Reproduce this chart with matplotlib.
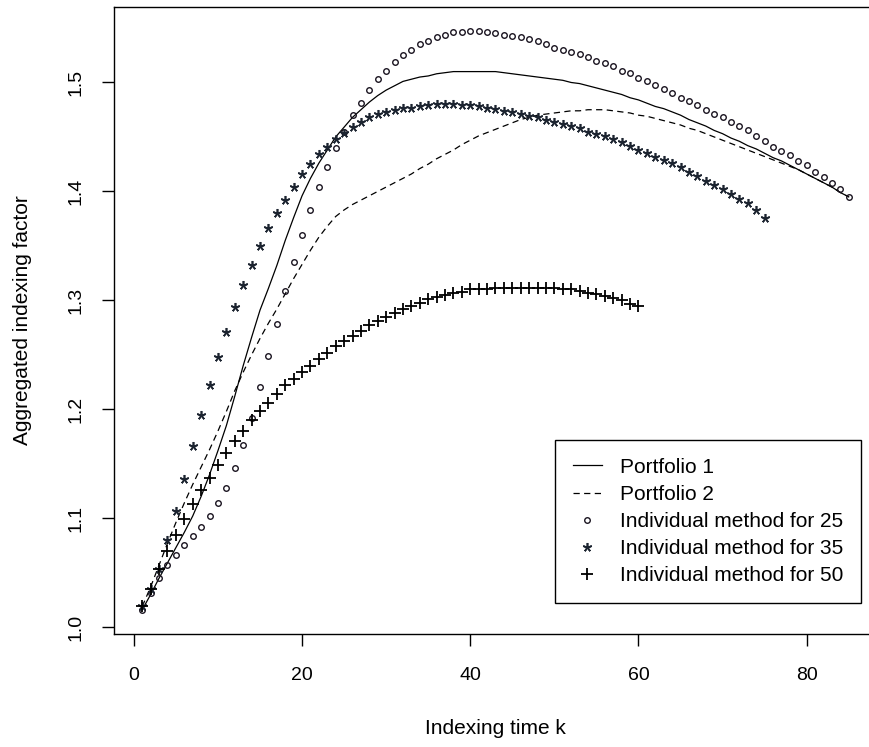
import matplotlib
matplotlib.use('Agg')
import matplotlib.pyplot as plt

plt.rcParams['font.family'] = ['Liberation Sans', 'DejaVu Sans']

# indexing times
k85 = list(range(1, 86))
k75 = list(range(1, 76))
k60 = list(range(1, 61))

# Portfolio 1 (solid line)
portfolio1 = [1.016, 1.030, 1.045, 1.059, 1.073, 1.087, 1.102, 1.120, 1.140, 1.162,
              1.185, 1.212, 1.240, 1.266, 1.291, 1.311, 1.332, 1.355, 1.376, 1.396,
              1.412, 1.426, 1.438, 1.450, 1.459, 1.468, 1.475, 1.482, 1.488, 1.493,
              1.497, 1.501, 1.503, 1.505, 1.506, 1.508, 1.509, 1.510, 1.510, 1.510,
              1.510, 1.510, 1.510, 1.509, 1.508, 1.507, 1.506, 1.505, 1.504, 1.503,
              1.502, 1.500, 1.499, 1.497, 1.495, 1.493, 1.491, 1.489, 1.486, 1.484,
              1.481, 1.478, 1.476, 1.473, 1.470, 1.466, 1.463, 1.460, 1.456, 1.453,
              1.449, 1.446, 1.442, 1.439, 1.435, 1.431, 1.428, 1.424, 1.420, 1.416,
              1.412, 1.408, 1.404, 1.399, 1.395]

# Portfolio 2 (dashed line)
portfolio2 = [1.019, 1.037, 1.057, 1.077, 1.096, 1.114, 1.131, 1.147, 1.163, 1.180,
              1.198, 1.217, 1.234, 1.250, 1.265, 1.279, 1.292, 1.306, 1.320, 1.333,
              1.346, 1.358, 1.368, 1.377, 1.383, 1.388, 1.392, 1.396, 1.400, 1.404,
              1.408, 1.412, 1.416, 1.421, 1.425, 1.430, 1.434, 1.438, 1.443, 1.447,
              1.451, 1.454, 1.457, 1.460, 1.463, 1.466, 1.468, 1.470, 1.471, 1.472,
              1.473, 1.474, 1.474, 1.475, 1.475, 1.475, 1.474, 1.473, 1.472, 1.470,
              1.469, 1.467, 1.465, 1.463, 1.461, 1.458, 1.456, 1.453, 1.450, 1.447,
              1.444, 1.441, 1.438, 1.435, 1.432, 1.429, 1.426, 1.423, 1.420, 1.416,
              1.412, 1.408, 1.404, 1.399, 1.395]

# Individual method for 25 (circles)
ind25 = [1.016, 1.031, 1.045, 1.057, 1.066, 1.075, 1.084, 1.092, 1.102, 1.114,
         1.128, 1.146, 1.167, 1.192, 1.220, 1.249, 1.278, 1.309, 1.335, 1.360,
         1.383, 1.404, 1.422, 1.440, 1.455, 1.470, 1.481, 1.493, 1.503, 1.511,
         1.519, 1.525, 1.530, 1.535, 1.538, 1.542, 1.544, 1.546, 1.546, 1.547,
         1.547, 1.546, 1.545, 1.544, 1.543, 1.542, 1.540, 1.538, 1.535, 1.532,
         1.530, 1.528, 1.526, 1.523, 1.520, 1.518, 1.515, 1.511, 1.509, 1.504,
         1.501, 1.498, 1.494, 1.490, 1.486, 1.483, 1.479, 1.475, 1.471, 1.468,
         1.464, 1.460, 1.456, 1.451, 1.446, 1.441, 1.437, 1.433, 1.428, 1.424,
         1.418, 1.413, 1.408, 1.402, 1.395]

# Individual method for 35 (stars)
ind35 = [1.019, 1.035, 1.053, 1.080, 1.107, 1.136, 1.166, 1.195, 1.222, 1.248,
         1.271, 1.294, 1.314, 1.332, 1.350, 1.366, 1.380, 1.392, 1.404, 1.416,
         1.425, 1.434, 1.441, 1.448, 1.454, 1.459, 1.464, 1.468, 1.471, 1.473,
         1.475, 1.477, 1.477, 1.478, 1.479, 1.480, 1.480, 1.480, 1.479, 1.479,
         1.478, 1.477, 1.476, 1.474, 1.473, 1.471, 1.469, 1.468, 1.466, 1.464,
         1.462, 1.460, 1.458, 1.455, 1.453, 1.451, 1.448, 1.445, 1.442, 1.438,
         1.435, 1.432, 1.429, 1.426, 1.422, 1.418, 1.414, 1.410, 1.406, 1.402,
         1.398, 1.393, 1.389, 1.383, 1.376]

# Individual method for 50 (plus)
ind50 = [1.019, 1.035, 1.053, 1.070, 1.085, 1.099, 1.113, 1.126, 1.137, 1.149,
         1.160, 1.171, 1.180, 1.190, 1.198, 1.206, 1.214, 1.222, 1.228, 1.234,
         1.240, 1.246, 1.252, 1.258, 1.263, 1.267, 1.272, 1.277, 1.281, 1.285,
         1.288, 1.292, 1.295, 1.298, 1.301, 1.303, 1.305, 1.307, 1.308, 1.310,
         1.310, 1.310, 1.311, 1.311, 1.311, 1.311, 1.311, 1.311, 1.311, 1.311,
         1.310, 1.310, 1.309, 1.307, 1.306, 1.304, 1.302, 1.300, 1.297, 1.295]

fig = plt.figure(figsize=(8.7, 7.47), dpi=100)
ax = fig.add_axes([114 / 870, 113 / 747, 763 / 870, 627 / 747])

ax.plot(k85, portfolio1, color='black', lw=0.9, label='Portfolio 1')
ax.plot(k85, portfolio2, color='black', lw=0.9, dashes=(5, 3.5), label='Portfolio 2')
ax.plot(k85, ind25, ls='none', marker='o', ms=4.0, mfc='none', mec='#1a1420', mew=1.0,
        label='Individual method for 25')
ax.plot(k75, ind35, ls='none', marker=(5, 2, 0), ms=6.5, mec='#1c2430', mew=1.2,
        label='Individual method for 35')
ax.plot(k60, ind50, ls='none', marker='+', ms=8, mec='black', mew=1.3,
        label='Individual method for 50')

ax.set_xlim(-2.36, 88.36)
ax.set_ylim(0.9937, 1.5693)
ax.set_xticks([0, 20, 40, 60, 80])
ax.set_yticks([1.0, 1.1, 1.2, 1.3, 1.4, 1.5])
ax.set_yticklabels(['1.0', '1.1', '1.2', '1.3', '1.4', '1.5'])
ax.tick_params(axis='both', direction='out', length=8.6, width=1.0, labelsize=14)
ax.tick_params(axis='x', pad=15)
ax.tick_params(axis='y', pad=13, labelrotation=90)
for lab in ax.get_yticklabels():
    lab.set_va('center')
for sp in ax.spines.values():
    sp.set_linewidth(1.0)
    sp.set_color('black')

fig.text(495 / 870, 1 - 729 / 747, 'Indexing time k', ha='center', va='center', fontsize=15)
fig.text(23 / 870, 1 - 320 / 747, 'Aggregated indexing factor', ha='center', va='center',
         rotation=90, fontsize=15)

leg = ax.legend(loc='upper left', bbox_to_anchor=(555 / 870, 1 - 440 / 747),
                bbox_transform=fig.transFigure, fontsize=15, frameon=True, fancybox=False,
                edgecolor='black', framealpha=1, borderaxespad=0, borderpad=0.85,
                labelspacing=0.39, handlelength=1.4, handletextpad=0.85)
leg.get_frame().set_linewidth(1.0)

fig.savefig('out.png', dpi=100)
